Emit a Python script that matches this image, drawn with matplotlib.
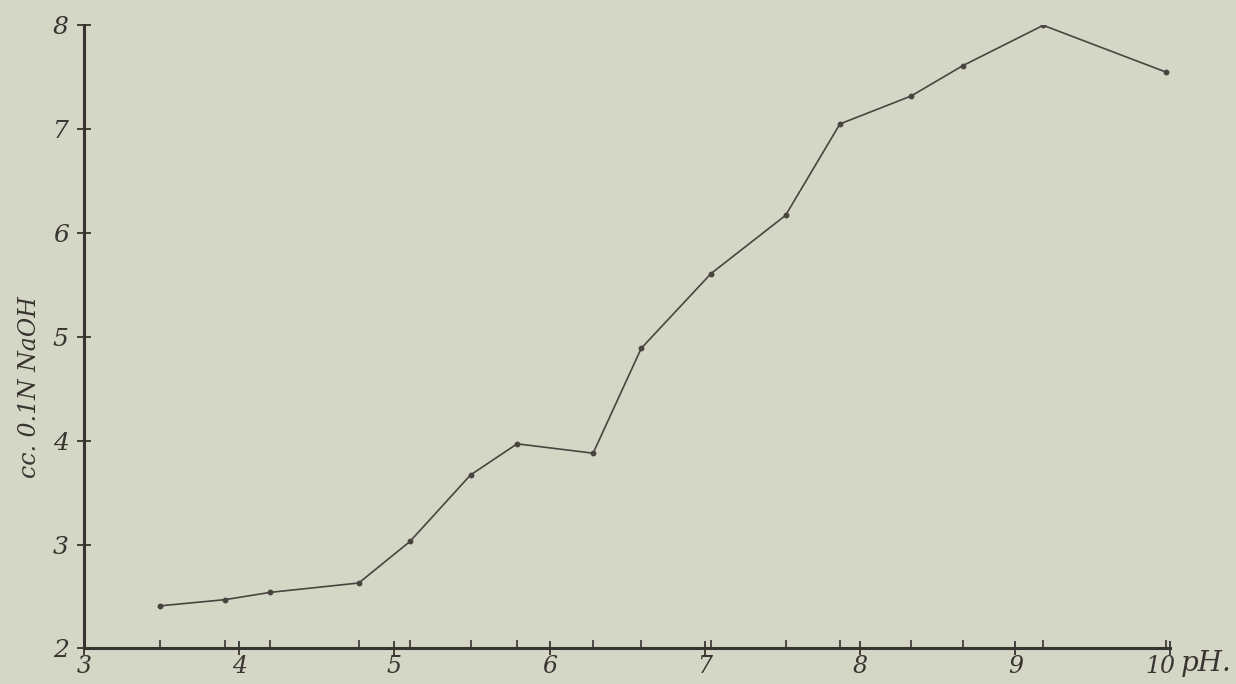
import matplotlib.pyplot as plt
from matplotlib.transforms import ScaledTranslation

# pH vs cc. 0.1N NaOH
ph = [3.49, 3.91, 4.20, 4.77, 5.10, 5.49, 5.79, 6.28, 6.59, 7.04, 7.52, 7.87, 8.33, 8.66, 9.18, 9.97]
naoh = [2.41, 2.47, 2.54, 2.63, 3.03, 3.67, 3.97, 3.88, 4.89, 5.61, 6.17, 7.05, 7.32, 7.61, 8.00, 7.55]

x_ticks = [3, 4, 5, 6, 7, 8, 9, 10]
y_ticks = [2, 3, 4, 5, 6, 7, 8]

bg = '#d4d7c5'
ink = '#4a4440'
dark = '#3a3430'

fig = plt.figure(figsize=(12.36, 6.84), dpi=100, facecolor=bg)
ax = fig.add_axes([0.068, 0.052, 0.879, 0.911], facecolor=bg)

ax.plot(ph, naoh, color=ink, lw=1.2, marker='o', ms=3.2, mfc=ink, mec=ink)

ax.set_xlim(3, 10)
ax.set_ylim(2, 8)
for s in ['top', 'right']:
    ax.spines[s].set_visible(False)
for s in ['left', 'bottom']:
    ax.spines[s].set_color(dark)
    ax.spines[s].set_linewidth(2.2)

tick_font = dict(family='DejaVu Serif', style='italic', size=18, color=dark)
ax.set_xticks(x_ticks)
ax.set_xticklabels([str(t) for t in x_ticks], fontdict=dict(tick_font, size=17))
ax.set_yticks(y_ticks)
ax.set_yticklabels([str(t) for t in y_ticks], fontdict=tick_font)
ax.set_xticks(ph, minor=True)
ax.tick_params(axis='both', which='major', direction='inout', length=10, width=1.3,
               color=dark)
ax.tick_params(axis='x', which='major', pad=0)
ax.tick_params(axis='y', which='major', pad=6)
ax.tick_params(axis='x', which='minor', direction='in', length=6, width=1.2, color=dark)

# "10" sits a little left of its tick so that "pH." can follow it
last = ax.xaxis.get_major_ticks()[-1].label1
last.set_transform(last.get_transform() + ScaledTranslation(-7 / 72, 0, fig.dpi_scale_trans))

ax.set_ylabel('cc. 0.1N NaOH', family='DejaVu Serif', style='italic', size=17,
              color=dark)
ax.yaxis.set_label_coords(-0.04, 0.42)

fig.text(1181 / 1236, 1 - 650 / 684, 'pH.', family='DejaVu Serif',
         style='italic', size=20, color=dark, ha='left', va='top')

fig.savefig('out.png', dpi=100, facecolor=bg)
